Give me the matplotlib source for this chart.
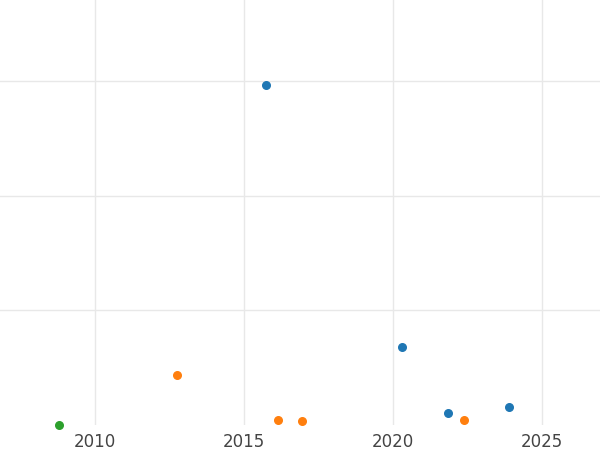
import matplotlib.pyplot as plt

# series (x = year, y = value)
blue_x = [2015.75, 2020.3, 2021.85, 2023.9]
blue_y = [2.97, 0.68, 0.105, 0.157]
orange_x = [2012.75, 2016.15, 2016.95, 2022.4]
orange_y = [0.437, 0.044, 0.035, 0.044]
green_x = [2008.8]
green_y = [0.0]

fig = plt.figure(figsize=(6, 4.5), dpi=100)
ax = fig.add_axes([0, 25 / 450, 1, 425 / 450])

ax.scatter(blue_x, blue_y, s=30, color='#1f77b4', zorder=3, clip_on=False)
ax.scatter(orange_x, orange_y, s=30, color='#ff7f0e', zorder=3, clip_on=False)
ax.scatter(green_x, green_y, s=30, color='#2ca02c', zorder=3, clip_on=False)

ax.set_xlim(2006.81, 2026.95)
ax.set_ylim(0, 3.71)
ax.set_xticks([2010, 2015, 2020, 2025])
ax.set_yticks([1, 2, 3])
ax.set_yticklabels([])
ax.grid(color='#e8e8e8', linewidth=1)
ax.set_axisbelow(True)
ax.tick_params(length=0, labelsize=12, colors='#444444', pad=6)
for spine in ax.spines.values():
    spine.set_visible(False)

fig.savefig('out.png', dpi=100, facecolor='white')
